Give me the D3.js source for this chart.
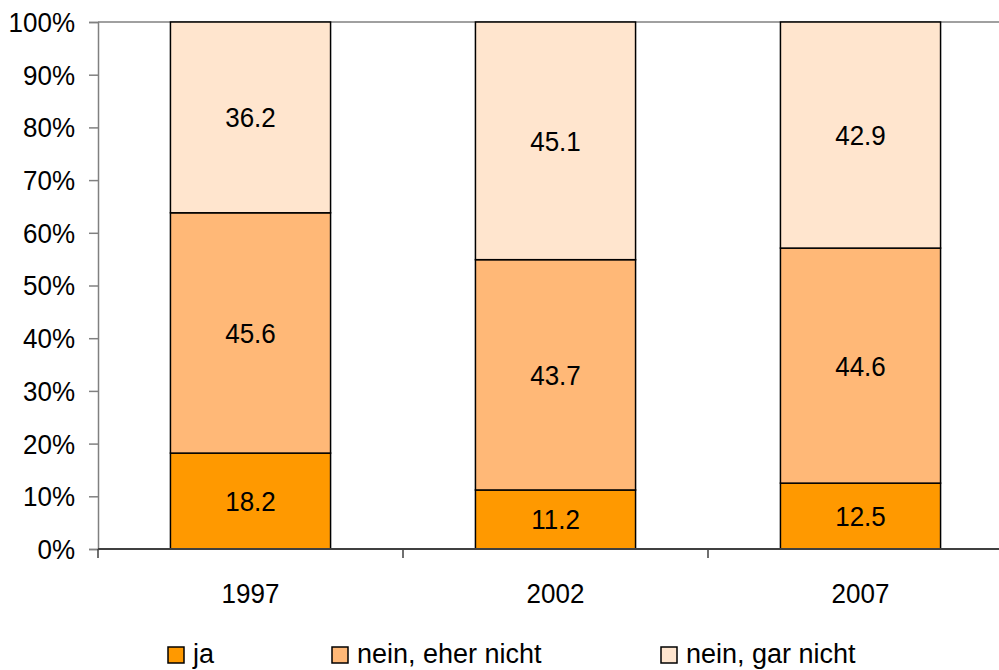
<!DOCTYPE html>
<html><head><meta charset="utf-8">
<script src="https://cdn.jsdelivr.net/npm/d3@7"></script>
<style>body{margin:0;background:#fff;} svg{display:block;font-family:"Liberation Sans",Arial,sans-serif;}</style>
</head><body>
<svg id="chart" width="999" height="670"></svg>
<script>
const categories = ["1997", "2002", "2007"];
const seriesNames = ["ja", "nein, eher nicht", "nein, gar nicht"];
const ja = [18.2, 11.2, 12.5];
const neinEher = [45.6, 43.7, 44.6];
const neinGar = [36.2, 45.1, 42.9];
const yTicks = [0, 10, 20, 30, 40, 50, 60, 70, 80, 90, 100];
const colors = ["#FF9900", "#FFB877", "#FFE5CE"];

(function () {
const svg = d3.select("#chart");
const pLeft = 98, pRight = 1013, pTop = 22, pBottom = 549;
const SY = 1.08;
const x = d3.scaleBand().domain(categories).range([pLeft, pRight]).paddingInner(0.475).paddingOuter(0.2375);
const y = d3.scaleLinear().domain([0, 100]).range([pBottom, pTop]);

const rows = categories.map((c, i) => ({cat: c, ja: ja[i], eher: neinEher[i], gar: neinGar[i]}));
const keys = ["ja", "eher", "gar"];
const stack = d3.stack().keys(keys)(rows);

// plot area top border
svg.append("line").attr("x1", pLeft).attr("x2", 999).attr("y1", pTop).attr("y2", pTop)
  .attr("stroke", "#808080").attr("stroke-width", 1.5);

// y axis
const yAxis = d3.axisLeft(y).tickValues(yTicks).tickSize(9).tickPadding(14).tickFormat(d => d + "%");
const ga = svg.append("g").attr("transform", `translate(${pLeft},0)`).call(yAxis);
ga.select(".domain").attr("stroke", "#808080").attr("stroke-width", 1.5);
ga.selectAll(".tick line").attr("stroke", "#808080").attr("stroke-width", 1.5);
ga.selectAll(".tick text").attr("font-size", 26).attr("fill", "#000")
  .attr("font-family", "Liberation Sans, Arial, sans-serif")
  .attr("transform", `scale(1,${SY})`).attr("dy", null).attr("y", 9.4 / SY);

// bars
stack.forEach((layer, li) => {
  svg.append("g").selectAll("rect").data(layer).join("rect")
    .attr("x", d => x(d.data.cat))
    .attr("width", x.bandwidth())
    .attr("y", d => y(d[1]))
    .attr("height", d => y(d[0]) - y(d[1]))
    .attr("fill", colors[li])
    .attr("stroke", "#000").attr("stroke-width", 1.5);
  svg.append("g").selectAll("text").data(layer).join("text")
    .attr("transform", d => `translate(${x(d.data.cat) + x.bandwidth() / 2},${(y(d[0]) + y(d[1])) / 2 + 10}) scale(1,${SY})`)
    .attr("text-anchor", "middle")
    .attr("font-size", 26)
    .text(d => d3.format(".1f")(d[1] - d[0]));
});

// x axis
const xAxisLine = svg.append("g");
xAxisLine.append("line").attr("x1", pLeft).attr("x2", 999).attr("y1", pBottom).attr("y2", pBottom)
  .attr("stroke", "#404040").attr("stroke-width", 2);
const tickXs = categories.map((c, i) => pLeft + i * x.step()).concat([pLeft + categories.length * x.step()]);
xAxisLine.selectAll("line.t").data(tickXs).join("line").attr("class", "t")
  .attr("x1", d => d).attr("x2", d => d).attr("y1", pBottom).attr("y2", pBottom + 9)
  .attr("stroke", "#404040").attr("stroke-width", 1.5);
svg.append("g").selectAll("text").data(categories).join("text")
  .attr("transform", d => `translate(${x(d) + x.bandwidth() / 2},603) scale(1,${SY})`)
  .attr("text-anchor", "middle").attr("font-size", 26)
  .text(d => d);

// legend
const legendX = [168, 332, 661];
const lg = svg.append("g").selectAll("g").data(seriesNames).join("g")
  .attr("transform", (d, i) => `translate(${legendX[i]},647)`);
lg.append("rect").attr("width", 16).attr("height", 16).attr("fill", (d, i) => colors[i])
  .attr("stroke", "#000").attr("stroke-width", 1.5);
lg.append("text").attr("transform", `translate(25,16)`).attr("font-size", 27).text(d => d);
})();
</script>
</body></html>
